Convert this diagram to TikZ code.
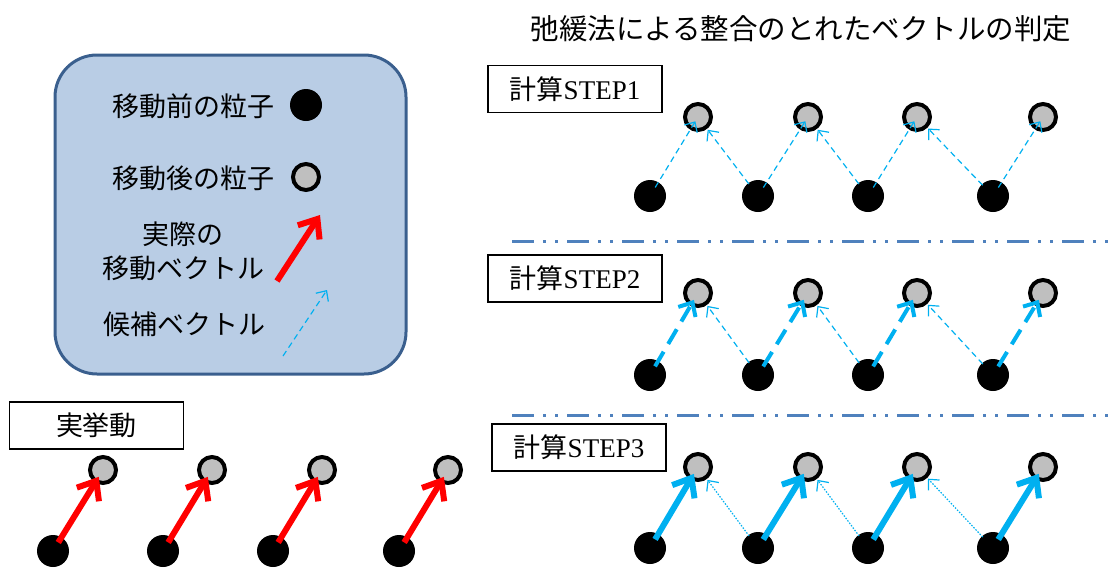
\documentclass[tikz,border=0pt]{standalone}
\usepackage{fontspec}
\setmainfont{Liberation Serif}
\newfontfamily\jp{Noto Sans CJK JP}
\usetikzlibrary{arrows.meta}
\definecolor{cblue}{HTML}{00B0F0}
\definecolor{cred}{HTML}{FF0000}
\definecolor{lgfill}{HTML}{B9CDE5}
\definecolor{lgdraw}{HTML}{3A5F8E}
\definecolor{ddline}{HTML}{4F81BD}
\definecolor{gfill}{HTML}{BFBFBF}
\begin{document}
\begin{tikzpicture}[x=1pt,y=-1pt,
  before/.style={circle,fill=black,minimum size=32pt,inner sep=0pt},
  after/.style={circle,draw=black,line width=4pt,fill=gfill,minimum size=26pt,inner sep=0pt},
  lbl/.style={font=\jp\fontsize{27}{30}\selectfont,inner sep=0pt},
  stepbox/.style={draw=black,line width=1.2pt,minimum width=174pt,minimum height=47pt,inner sep=0pt,font=\fontsize{27}{30}\selectfont},
  redarr/.style={draw=cred,line width=6pt,-{Straight Barb[length=16pt,width=26pt]}},
  thickblue/.style={draw=cblue,line width=6pt,-{Straight Barb[length=16pt,width=26pt]}},
  dashblue/.style={draw=cblue,line width=4pt,dash pattern=on 17pt off 9pt,-{Straight Barb[length=11pt,width=20pt]}},
  thinblue/.style={draw=cblue,line width=1.2pt,dash pattern=on 6pt off 4pt,-{Straight Barb[length=8pt,width=15pt]}},
  dotblue/.style={draw=cblue,line width=1.2pt,dash pattern=on 1.5pt off 1.5pt,-{Straight Barb[length=8pt,width=15pt]}},
  sepline/.style={draw=ddline,line width=3pt,dash pattern=on 22pt off 9pt on 3pt off 9pt on 3pt off 9pt},
  ur/.style={shorten <=10pt,shorten >=5pt},
  urthick/.style={shorten <=10pt,shorten >=8pt},
  ul/.style={shorten <=15pt,shorten >=16pt}
]
\useasboundingbox (0,0) rectangle (1109,568);

% title
\node[font=\jp\fontsize{28.5}{32}\selectfont,inner sep=0pt] (title) at (801,29) {弛緩法による整合のとれたベクトルの判定};

% legend
\node[draw=lgdraw,line width=3pt,fill=lgfill,rounded corners=42pt,minimum width=351pt,minimum height=319pt,inner sep=0pt] (legend) at (230.5,214.5) {};
\node[lbl] (t1) at (193,106) {移動前の粒子};
\node[lbl] (t2) at (193,178) {移動後の粒子};
\node[lbl] (t3) at (183,234) {実際の};
\node[lbl] (t4) at (183,268) {移動ベクトル};
\node[lbl] (t5) at (184,324) {候補ベクトル};
\node[before] (lb) at (306,105) {};
\node[after] (la) at (306,177) {};
\coordinate (lr1) at (277,281);
\coordinate (lr2) at (320,215);
\draw[redarr] (lr1) -- (lr2);
\coordinate (lc1) at (283,356);
\coordinate (lc2) at (327,290);
\draw[thinblue] (lc1) -- (lc2);

% actual behaviour
\node[stepbox,font=\jp\fontsize{27}{30}\selectfont] (real) at (96.5,425.5) {実挙動};
\foreach \i/\gx/\bx in {1/103/53, 2/212/163, 3/322/273, 4/448/399} {
  \node[after] (ag\i) at (\gx,470) {};
  \node[before] (ab\i) at (\bx,551) {};
}
\foreach \i in {1,...,4} \draw[redarr,urthick] (ab\i.center) -- (ag\i.center);

% separators
\coordinate (s1a) at (512,241); \coordinate (s1b) at (1109,241);
\coordinate (s2a) at (512,415); \coordinate (s2b) at (1109,415);
\draw[sepline] (s1a) -- (s1b);
\draw[sepline] (s2a) -- (s2b);

% step boxes
\node[stepbox] (st1) at (575,89) {{\jp 計算}STEP1};
\node[stepbox] (st2) at (575,278.5) {{\jp 計算}STEP2};
\node[stepbox] (st3) at (579,447.5) {{\jp 計算}STEP3};

% particles
\foreach \r/\gy/\by in {1/117/196, 2/293/375, 3/467/548} {
  \foreach \i/\gx/\bx in {1/698/650, 2/808/758, 3/917/868, 4/1043/993} {
    \node[after] (g\r\i) at (\gx,\gy) {};
    \node[before] (b\r\i) at (\bx,\by) {};
  }
}

% step 1
\foreach \i in {1,...,4} \draw[thinblue,ur] (b1\i.center) -- (g1\i.center);
\foreach \i/\j in {2/1,3/2,4/3} \draw[thinblue,ul] (b1\i.center) -- (g1\j.center);
% step 2
\foreach \i in {1,...,4} \draw[dashblue,urthick] (b2\i.center) -- (g2\i.center);
\foreach \i/\j in {2/1,3/2,4/3} \draw[thinblue,ul] (b2\i.center) -- (g2\j.center);
% step 3
\foreach \i in {1,...,4} \draw[thickblue,urthick] (b3\i.center) -- (g3\i.center);
\foreach \i/\j in {2/1,3/2,4/3} \draw[dotblue,ul] (b3\i.center) -- (g3\j.center);
\end{tikzpicture}
\end{document}
